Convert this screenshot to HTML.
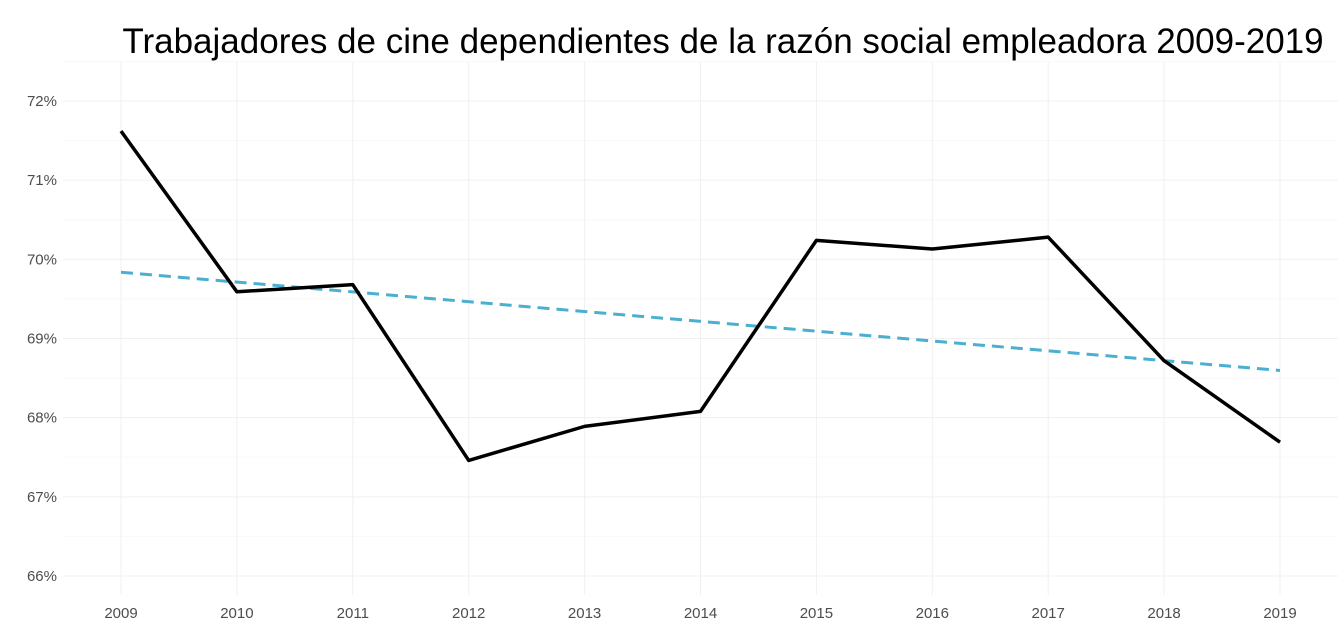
<!DOCTYPE html>
<html><head><meta charset="utf-8"><style>
body{margin:0;background:#fff;}
svg{display:block;font-family:"Liberation Sans",sans-serif;}
</style></head><body>
<svg id="c" width="1342" height="628"></svg>
<script>
const years=[2009,2010,2011,2012,2013,2014,2015,2016,2017,2018,2019];
const values=[71.62,69.59,69.68,67.46,67.89,68.08,70.24,70.13,70.28,68.72,67.69];
const yTicks=[66,67,68,69,70,71,72];
const title="Trabajadores de cine dependientes de la razón social empleadora 2009-2019";
const NS="http://www.w3.org/2000/svg";
const svg=document.getElementById('c');
const X=y=>121+(y-2009)*(1280-121)/10;
const Y=v=>576-(v-66)*(576-101)/6;
function el(t,a,p){const e=document.createElementNS(NS,t);for(const k in a)e.setAttribute(k,a[k]);(p||svg).appendChild(e);return e;}
const grid=el('g',{});


for(const t of yTicks){
  el('line',{x1:63,x2:1338,y1:Y(t),y2:Y(t),stroke:'#f0f0f0','stroke-width':1},grid);
  el('line',{x1:63,x2:1338,y1:Y(t+0.5),y2:Y(t+0.5),stroke:'#f8f8f8','stroke-width':1},grid);
  const lb=el('text',{x:57,y:Y(t)+5,'text-anchor':'end','font-size':15,fill:'#4d4d4d'});
  lb.textContent=t+'%';
  
  
}
for(const yr of years){
  el('line',{x1:X(yr),x2:X(yr),y1:62,y2:595,stroke:'#f0f0f0','stroke-width':1},grid);
  const lb=el('text',{x:X(yr),y:618,'text-anchor':'middle','font-size':15,fill:'#4d4d4d'});
  lb.textContent=yr;
  
  
}
const n=years.length,mx=years.reduce((a,b)=>a+b)/n,my=values.reduce((a,b)=>a+b)/n;
let sxy=0,sxx=0;years.forEach((x,i)=>{sxy+=(x-mx)*(values[i]-my);sxx+=(x-mx)*(x-mx);});
const slope=sxy/sxx,ic=my-slope*mx;
const tl=el('line',{x1:X(2009),y1:Y(ic+slope*2009),x2:X(2019),y2:Y(ic+slope*2019),stroke:'#4bafcf','stroke-width':3,'stroke-dasharray':'12,7'});


const ln=el('polyline',{points:years.map((y,i)=>X(y)+','+Y(values[i])).join(' '),fill:'none',stroke:'#000','stroke-width':3.5,'stroke-linejoin':'round'});


const tt=el('text',{x:723,y:53,'text-anchor':'middle','font-size':35,fill:'#000'});
tt.textContent=title;


</script>
</body></html>
